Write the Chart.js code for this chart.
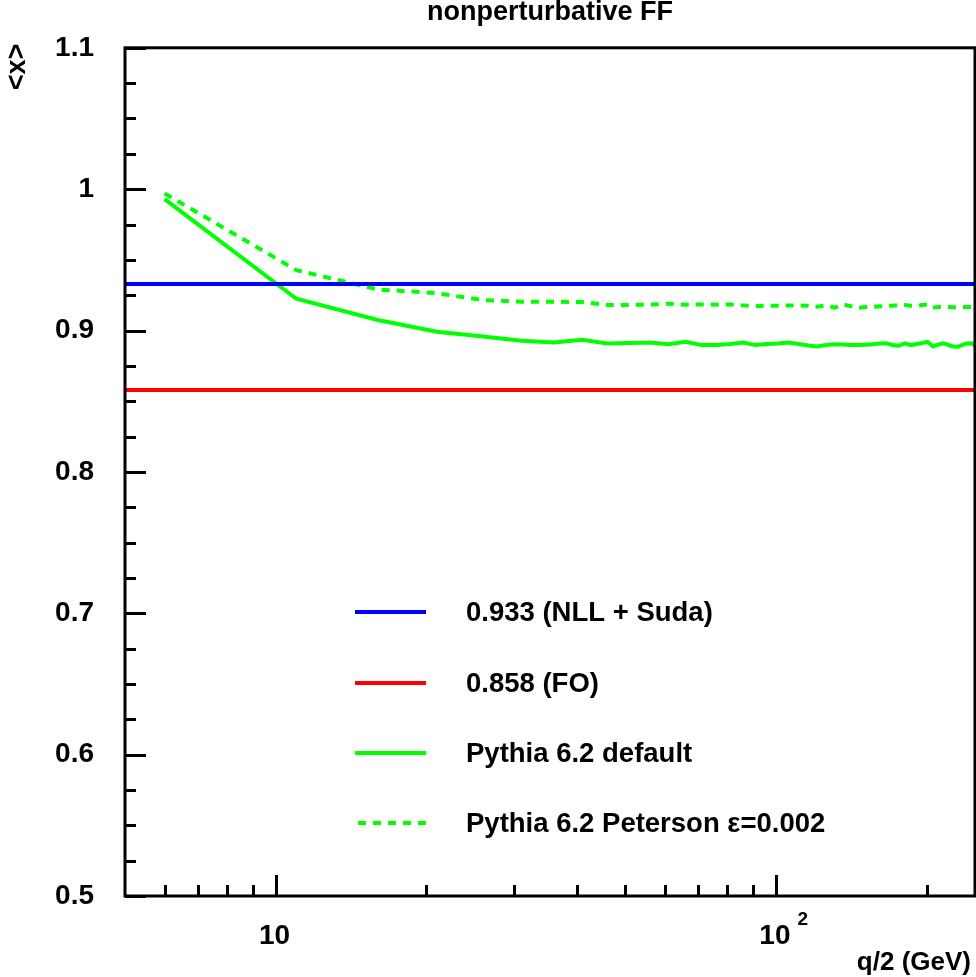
<!DOCTYPE html>
<html><head><meta charset="utf-8">
<script src="https://cdn.jsdelivr.net/npm/chart.js@4"></script>
<style>html,body{margin:0;padding:0;background:#fff;} canvas{display:block;}</style>
</head><body>
<div style="width:976px;height:977px;"><canvas id="c" width="976" height="977"></canvas></div>
<script>
// ---- data ----
const qValues = [6,11,16,21,26,31,36,41,46,51,56,61,66,71,76,81,86,91,96,101,106,111,116,121,126,131,136,141,146,151,156,161,166,171,176,181,186,191,196,201,206,211,216,221,226,231,236,241,246,251];
const pythiaDefault = [0.993,0.9225,0.9075,0.8991,0.8958,0.8927,0.8915,0.8934,0.8908,0.8912,
  0.8915,0.8903,0.8920,0.8897,0.8897,0.8905,0.8915,0.8897,0.8905,0.8908,
  0.8915,0.8905,0.8894,0.8887,0.8898,0.8903,0.8901,0.8898,0.8897,0.8900,
  0.8903,0.8908,0.8910,0.8898,0.8892,0.8910,0.8897,0.8905,0.8912,0.8920,
  0.8887,0.8901,0.8910,0.8898,0.8887,0.8885,0.8898,0.8908,0.8910,0.8887];
const pythiaPeterson = [0.997,0.9427,0.9291,0.9264,0.9215,0.9204,0.9204,0.9201,0.9181,0.9181,
  0.9183,0.9190,0.9183,0.9185,0.9183,0.9185,0.9178,0.9171,0.9176,0.9176,
  0.9177,0.9178,0.9176,0.9169,0.9178,0.9162,0.9185,0.9173,0.9160,0.9166,
  0.9167,0.9171,0.9174,0.9176,0.9180,0.9180,0.9176,0.9174,0.9180,0.9185,
  0.9162,0.9166,0.9169,0.9167,0.9164,0.9166,0.9167,0.9167,0.9167,0.9169];
const xRange = [5, 250];
const nllSuda = 0.933;
const fixedOrder = 0.858;
const yRange = [0.5, 1.1];
const yTickValues = [0.5,0.6,0.7,0.8,0.9,1.0,1.1];
const yTickLabels = ['0.5','0.6','0.7','0.8','0.9','1','1.1'];
const yMinorStep = 0.025;
const xMajorTicks = [10, 100];
const xMinorTicks = [6,7,8,9,20,30,40,50,60,70,80,90,200];
const xTickLabels = [{base:'10', exp:''},{base:'10', exp:'2'}];
const seriesLabels = ['0.933 (NLL + Suda)','0.858 (FO)','Pythia 6.2 default','Pythia 6.2 Peterson \u03b5=0.002'];
const titleText = 'nonperturbative FF';
const xTitle = 'q/2 (GeV)';
const yTitle = '<x>';

const FONT = '"Liberation Sans", Arial, Helvetica, sans-serif';
const BLUE = '#0000ff', RED = '#ff0000', GREEN = '#00ff00';

const pts = (xs, ys) => xs.map((x, i) => ({x, y: ys[i]}));

const decor = {
  id: 'decor',
  afterDraw(chart) {
    const ctx = chart.ctx, ca = chart.chartArea;
    const xs = chart.scales.x, ys = chart.scales.y;
    ctx.save();
    // frame
    ctx.strokeStyle = '#000';
    ctx.lineWidth = 3;
    ctx.strokeRect(ca.left, ca.top, ca.right - ca.left, ca.bottom - ca.top);
    // y ticks (inside)
    ctx.lineWidth = 3;
    ctx.beginPath();
    for (let k = 0; ; k++) {
      const v = yRange[0] + k * yMinorStep;
      if (v > yRange[1] + 1e-9) break;
      const y = Math.round(ys.getPixelForValue(v));
      const major = (k % 4 === 0);
      ctx.moveTo(ca.left, y + 0.5);
      ctx.lineTo(ca.left + (major ? 21 : 11), y + 0.5);
    }
    // x ticks (inside)
    xMajorTicks.forEach(v => { const x = Math.round(xs.getPixelForValue(v)); ctx.moveTo(x + 0.5, ca.bottom); ctx.lineTo(x + 0.5, ca.bottom - 21); });
    xMinorTicks.forEach(v => { const x = Math.round(xs.getPixelForValue(v)); ctx.moveTo(x + 0.5, ca.bottom); ctx.lineTo(x + 0.5, ca.bottom - 11); });
    ctx.stroke();

    ctx.fillStyle = '#000';
    // x tick labels
    ctx.textBaseline = 'alphabetic';
    xMajorTicks.forEach((v, i) => {
      const x = xs.getPixelForValue(v) - 1;
      const lab = xTickLabels[i];
      ctx.textAlign = 'center';
      ctx.font = 'bold 28px ' + FONT;
      ctx.fillText(lab.base, x, 944);
      if (lab.exp) {
        const w = ctx.measureText(lab.base).width;
        ctx.textAlign = 'left';
        ctx.font = 'bold 19px ' + FONT;
        ctx.fillText(lab.exp, x + w / 2 + 7, 925);
      }
    });
    // x title
    ctx.font = 'bold 26px ' + FONT;
    ctx.textAlign = 'right';
    ctx.fillText(xTitle, 971, 970);
    // title
    ctx.textAlign = 'center';
    ctx.textBaseline = 'middle';
    ctx.font = 'bold 27px ' + FONT;
    ctx.fillText(titleText, 550, 13);
    // y title
    ctx.save();
    ctx.translate(18, 67);
    ctx.rotate(-Math.PI / 2);
    ctx.font = 'bold 27px ' + FONT;
    ctx.textAlign = 'center';
    ctx.textBaseline = 'middle';
    ctx.fillText(yTitle, 0, 0);
    ctx.restore();

    // legend
    const rows = [612, 683, 753, 823];
    chart.data.datasets.forEach((ds, i) => {
      const y = rows[i];
      ctx.save();
      ctx.strokeStyle = ds.borderColor;
      ctx.lineWidth = 4;
      ctx.setLineDash(ds.borderDash || []);
      ctx.beginPath();
      if (ds.borderDash) { ctx.moveTo(358, y); ctx.lineTo(427, y); }
      else { ctx.moveTo(355, y); ctx.lineTo(426, y); }
      ctx.stroke();
      ctx.restore();
      ctx.font = 'bold 27.5px ' + FONT;
      ctx.textAlign = 'left';
      ctx.textBaseline = 'middle';
      ctx.fillStyle = '#000';
      ctx.fillText(seriesLabels[i], 466, y + 1);
    });
    ctx.restore();
  }
};

new Chart(document.getElementById('c'), {
  type: 'line',
  data: {
    datasets: [
      { label: seriesLabels[0], data: pts(xRange, [nllSuda, nllSuda]), borderColor: BLUE, borderWidth: 4, pointRadius: 0, order: 0 },
      { label: seriesLabels[1], data: pts(xRange, [fixedOrder, fixedOrder]), borderColor: RED, borderWidth: 4, pointRadius: 0, order: 1 },
      { label: seriesLabels[2], data: pts(qValues, pythiaDefault), borderColor: GREEN, borderWidth: 4, pointRadius: 0, order: 2 },
      { label: seriesLabels[3], data: pts(qValues, pythiaPeterson), borderColor: GREEN, borderWidth: 4, borderDash: [8, 7], pointRadius: 0, order: 3 }
    ]
  },
  options: {
    responsive: false,
    animation: false,
    devicePixelRatio: 1,
    layout: { padding: { top: 44, right: 1, left: 0, bottom: 0 } },
    plugins: { legend: { display: false }, tooltip: { enabled: false }, title: { display: false } },
    scales: {
      x: {
        type: 'logarithmic', min: xRange[0], max: xRange[1],
        grid: { display: false, drawTicks: false }, border: { display: false },
        ticks: { display: false },
        afterFit(s) { s.height = 81; }
      },
      y: {
        type: 'linear', min: yRange[0], max: yRange[1],
        grid: { display: false, drawTicks: false }, border: { display: false },
        afterBuildTicks(s) { s.ticks = yTickValues.map(v => ({ value: v })); },
        ticks: {
          padding: 31,
          color: '#000',
          font: { family: FONT, size: 28, weight: 'bold' },
          callback: (v, i) => yTickLabels[i]
        },
        afterFit(s) { s.width = 125; }
      }
    }
  },
  plugins: [decor]
});
</script>
</body></html>
